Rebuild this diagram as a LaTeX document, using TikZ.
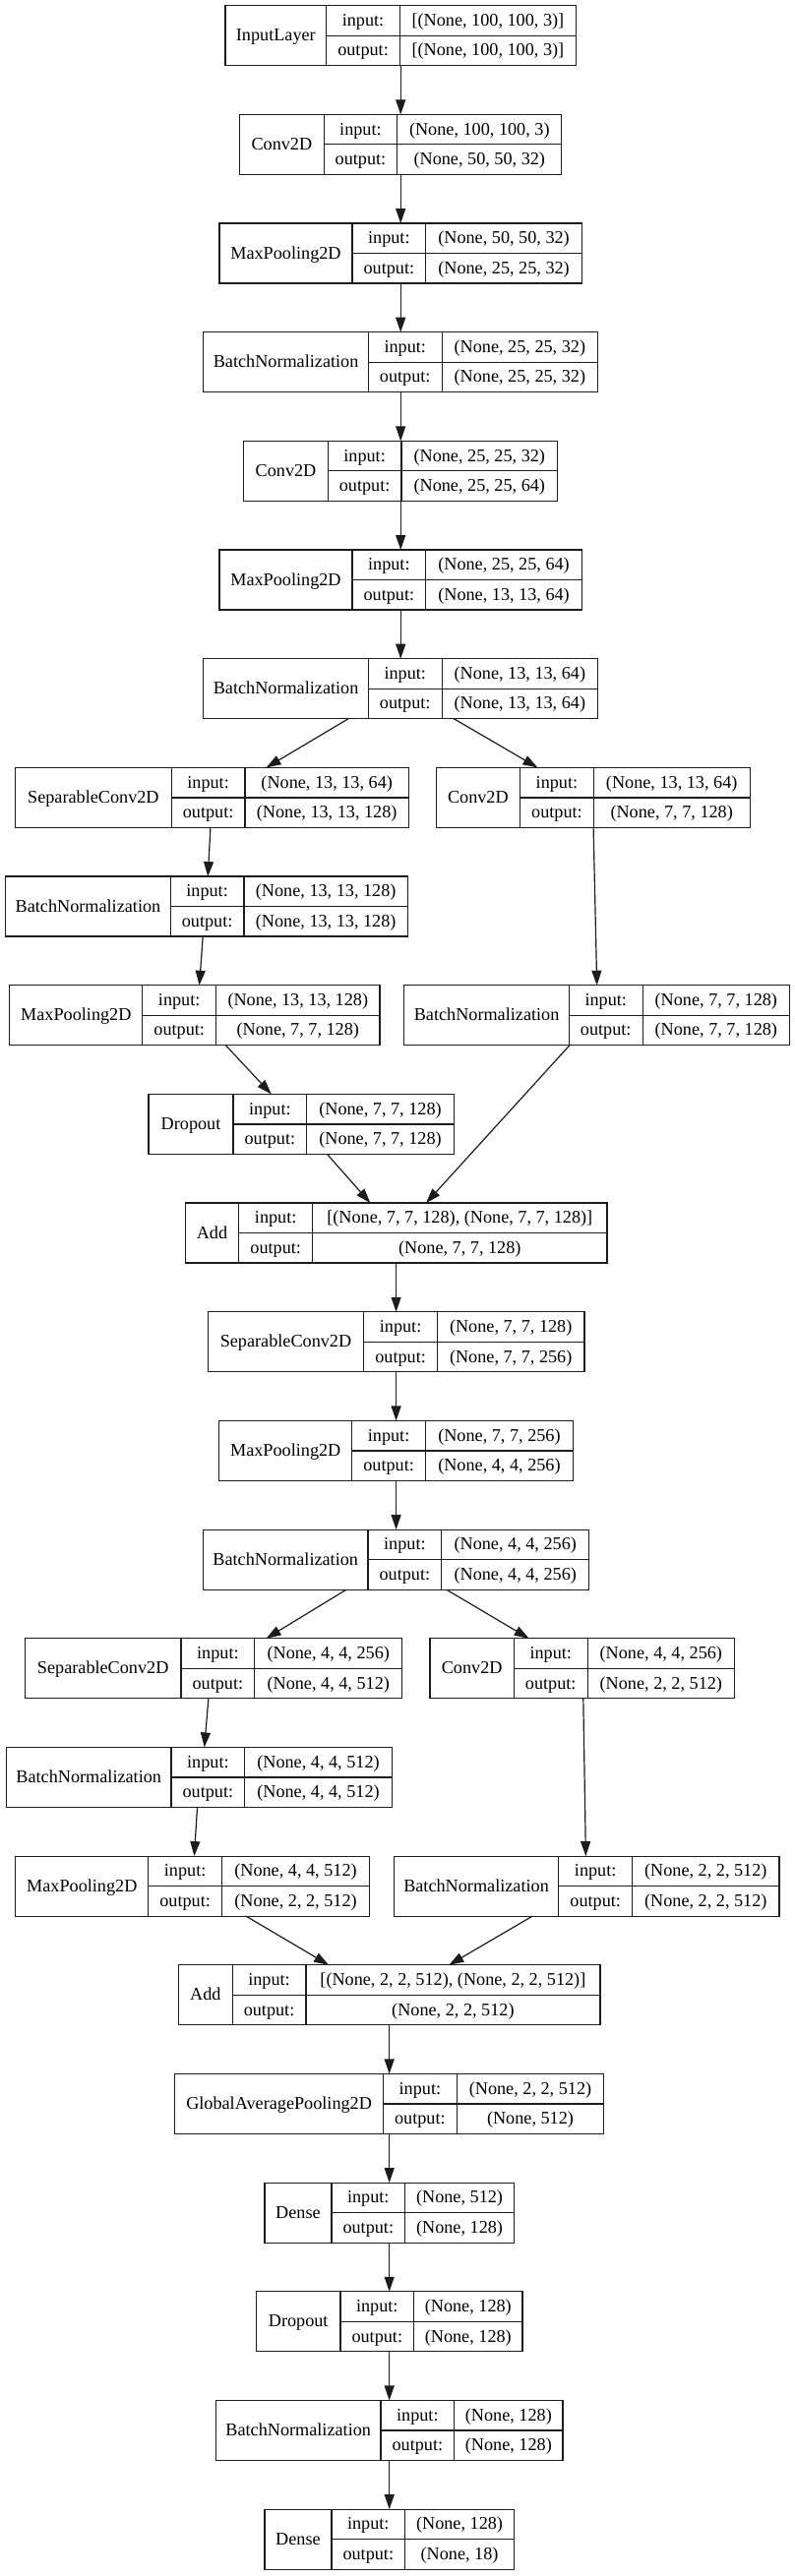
\documentclass[tikz,border=0pt]{standalone}
\usepackage{fontspec}
\setmainfont{Liberation Serif}
\usetikzlibrary{arrows.meta}
\definecolor{color_layer_line}{HTML}{1C1C1C}
\definecolor{color_layer_text}{HTML}{000000}
\colorlet{color_edge}{color_layer_line}
\def\layerlinewidth{1.2pt}
\def\layerheight{61}
\def\iowidth{74.7}
\def\rowpitch{110.67}
\def\rowoffset{5.7}
\def\layerfont{\fontsize{18.2}{20}\selectfont}
\tikzset{
    layer_frame/.style={draw=color_layer_line, line width=\layerlinewidth, inner sep=0pt, outer sep=0pt, minimum height=\layerheight pt, anchor=north west},
    layer_line/.style={draw=color_layer_line, line width=\layerlinewidth},
    layer_text/.style={color_layer_text, font=\layerfont, inner sep=0pt, anchor=base},
    edge_arrow/.style={draw=color_edge, line width=\layerlinewidth, -{Triangle[length=15pt,width=10pt]}}
}
% one keras layer: (id, row, centre x, name width, value width){name}{input}{output}
\def\layerbox(#1,#2,#3,#4,#5)#6#7#8{
    \pgfmathsetmacro\ltop{\rowoffset+\rowpitch*#2}
    \pgfmathsetmacro\lwidth{#4+\iowidth+#5}
    \pgfmathsetmacro\lleft{#3-\lwidth/2}
    \pgfmathsetmacro\ldiva{\lleft+#4}
    \pgfmathsetmacro\ldivb{\ldiva+\iowidth}
    \pgfmathsetmacro\lright{\ldivb+#5}
    \node[layer_frame, minimum width=\lwidth pt] (#1) at (\lleft,\ltop) {};
    \draw[layer_line] (\ldiva,\ltop) -- ++(0,\layerheight);
    \draw[layer_line] (\ldivb,\ltop) -- ++(0,\layerheight);
    \draw[layer_line] (\ldiva,\ltop+\layerheight/2) -- (\lright,\ltop+\layerheight/2);
    \node[layer_text] (#1-name) at ({(\lleft+\ldiva)/2}, \ltop+\layerheight/2+5.5) {#6};
    \node[layer_text] (#1-in) at ({(\ldiva+\ldivb)/2}, \ltop+\layerheight/4+5.5) {input:};
    \node[layer_text] (#1-out) at ({(\ldiva+\ldivb)/2}, \ltop+3*\layerheight/4+5.5) {output:};
    \node[layer_text] (#1-inval) at ({(\ldivb+\lright)/2}, \ltop+\layerheight/4+5.5) {#7};
    \node[layer_text] (#1-outval) at ({(\ldivb+\lright)/2}, \ltop+3*\layerheight/4+5.5) {#8};
}

\begin{document}
\begin{tikzpicture}[x=1pt, y=-1pt]
    \useasboundingbox (0,0) rectangle (807,2619);
    % stem
    \layerbox(inl,0,407.2,102.7,179){InputLayer}{[(None, 100, 100, 3)]}{[(None, 100, 100, 3)]}
    \layerbox(cva,1,407.2,85.5,167){Conv2D}{(None, 100, 100, 3)}{(None, 50, 50, 32)}
    \layerbox(mpa,2,407.2,135,158.7){MaxPooling2D}{(None, 50, 50, 32)}{(None, 25, 25, 32)}
    \layerbox(bna,3,407.2,167.6,158.5){BatchNormalization}{(None, 25, 25, 32)}{(None, 25, 25, 32)}
    \layerbox(cvb,4,407.2,85.5,158.7){Conv2D}{(None, 25, 25, 32)}{(None, 25, 25, 64)}
    \layerbox(mpb,5,407.2,135,158.7){MaxPooling2D}{(None, 25, 25, 64)}{(None, 13, 13, 64)}
    \layerbox(bnb,6,407.2,167.6,158.5){BatchNormalization}{(None, 13, 13, 64)}{(None, 13, 13, 64)}
    % first residual block
    \layerbox(spa,7,215.5,158.7,166.5){SeparableConv2D}{(None, 13, 13, 64)}{(None, 13, 13, 128)}
    \layerbox(cvc,7,602.6,85.5,158.8){Conv2D}{(None, 13, 13, 64)}{(None, 7, 7, 128)}
    \layerbox(bnc,8,210.05,167.6,166.5){BatchNormalization}{(None, 13, 13, 128)}{(None, 13, 13, 128)}
    \layerbox(mpc,9,197.95,135,166.5){MaxPooling2D}{(None, 13, 13, 128)}{(None, 7, 7, 128)}
    \layerbox(bnd,9,606.7,167.6,149.5){BatchNormalization}{(None, 7, 7, 128)}{(None, 7, 7, 128)}
    \layerbox(dra,10,306.15,86,149.5){Dropout}{(None, 7, 7, 128)}{(None, 7, 7, 128)}
    \layerbox(ada,11,402.6,54.7,299.5){Add}{[(None, 7, 7, 128), (None, 7, 7, 128)]}{(None, 7, 7, 128)}
    \layerbox(spb,12,402.6,158.5,149.5){SeparableConv2D}{(None, 7, 7, 128)}{(None, 7, 7, 256)}
    \layerbox(mpd,13,402.6,135,150){MaxPooling2D}{(None, 7, 7, 256)}{(None, 4, 4, 256)}
    \layerbox(bne,14,402.6,167.6,150){BatchNormalization}{(None, 4, 4, 256)}{(None, 4, 4, 256)}
    % second residual block
    \layerbox(spc,15,217.05,158.7,150){SeparableConv2D}{(None, 4, 4, 256)}{(None, 4, 4, 512)}
    \layerbox(cvd,15,591.75,85.5,149.5){Conv2D}{(None, 4, 4, 256)}{(None, 2, 2, 512)}
    \layerbox(bnf,16,202.35,167.6,149.5){BatchNormalization}{(None, 4, 4, 512)}{(None, 4, 4, 512)}
    \layerbox(mpe,17,195.65,135,150){MaxPooling2D}{(None, 4, 4, 512)}{(None, 2, 2, 512)}
    \layerbox(bng,17,596.15,167.6,149.5){BatchNormalization}{(None, 2, 2, 512)}{(None, 2, 2, 512)}
    \layerbox(adb,18,395.7,54.7,299){Add}{[(None, 2, 2, 512), (None, 2, 2, 512)]}{(None, 2, 2, 512)}
    % head
    \layerbox(gap,19,395.7,211.9,149.5){GlobalAveragePooling2D}{(None, 2, 2, 512)}{(None, 512)}
    \layerbox(dea,20,395.7,68,110.8){Dense}{(None, 512)}{(None, 128)}
    \layerbox(drb,21,395.7,85.5,110.3){Dropout}{(None, 128)}{(None, 128)}
    \layerbox(bnh,22,395.7,167.6,110.3){BatchNormalization}{(None, 128)}{(None, 128)}
    \layerbox(deb,23,395.7,68,110.8){Dense}{(None, 128)}{(None, 18)}

    % straight edges
    \foreach \a/\b in {inl/cva,cva/mpa,mpa/bna,bna/cvb,cvb/mpb,mpb/bnb,ada/spb,spb/mpd,mpd/bne,adb/gap,gap/dea,dea/drb,drb/bnh,bnh/deb}
        \draw[edge_arrow] (\a.south) -- (\b.north);
    % slanted edges
    \foreach \a/\da/\b/\db in {bnb/-53.1/spa/55.1, bnb/54.1/cvc/-56.2, spa/-1.6/bnc/1.25, bnc/-3.85/mpc/4.65, cvc/0.5/bnd/0,
            mpc/31.45/dra/-30.35, dra/26.35/ada/-26.25, bnd/-27.8/ada/30.45,
            bne/-50.5/spc/53.55, bne/51/cvd/-54.15, spc/-5.15/bnf/5.35, bnf/-1.85/mpe/1.75, cvd/1.05/bng/-0.75,
            mpe/54.35/adb/-61.6, bng/-54.95/adb/60.6}
        \draw[edge_arrow] ([xshift=\da pt]\a.south) -- ([xshift=\db pt]\b.north);
\end{tikzpicture}
\end{document}
